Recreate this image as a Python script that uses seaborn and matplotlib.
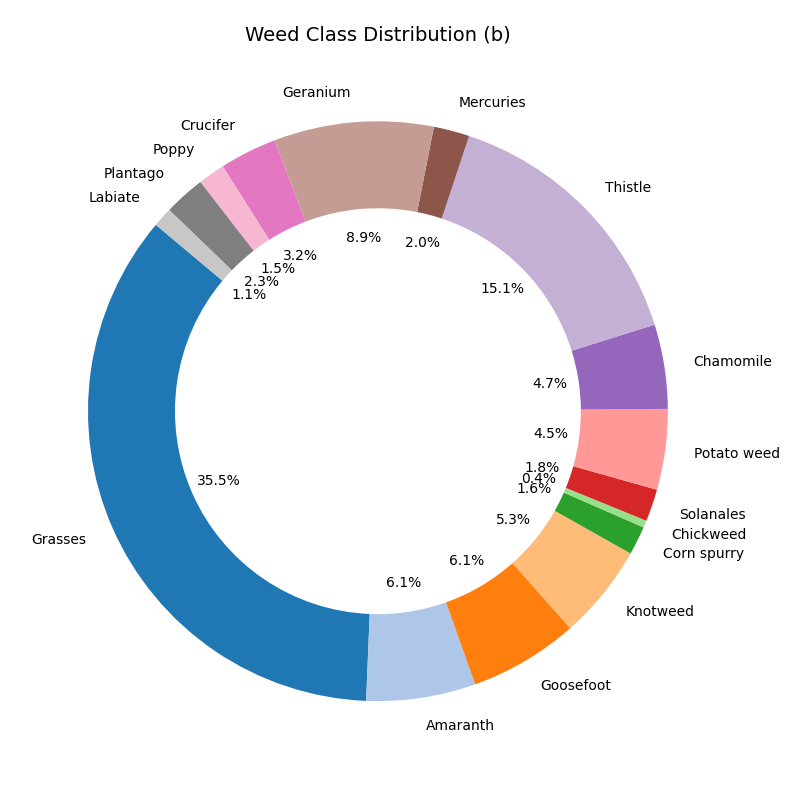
import matplotlib
matplotlib.use("Agg")
import matplotlib.pyplot as plt
import seaborn as sns

labels = ["Grasses", "Amaranth", "Goosefoot", "Knotweed", "Corn spurry", "Chickweed",
          "Solanales", "Potato weed", "Chamomile", "Thistle", "Mercuries", "Geranium",
          "Crucifer", "Poppy", "Plantago", "Labiate"]
values = [35.5, 6.1, 6.1, 5.3, 1.6, 0.4, 1.8, 4.5, 4.7, 15.1, 2.0, 8.9, 3.2, 1.5, 2.3, 1.1]

colors = sns.color_palette("tab20", 20)[:len(values)]

fig = plt.figure(figsize=(8, 8), dpi=100)
ax = fig.add_axes([0.0194, 0.033, 0.906, 0.906])
ax.pie(values, labels=labels, colors=colors, autopct="%1.1f%%", startangle=140,
       pctdistance=0.6, wedgeprops=dict(width=0.3))
ax.set_xlim(-1.25, 1.25)
ax.set_ylim(-1.25, 1.25)
ax.set_aspect("equal")
ax.set_title("Weed Class Distribution (b)", fontsize=14)
fig.savefig("out.png", dpi=100)
